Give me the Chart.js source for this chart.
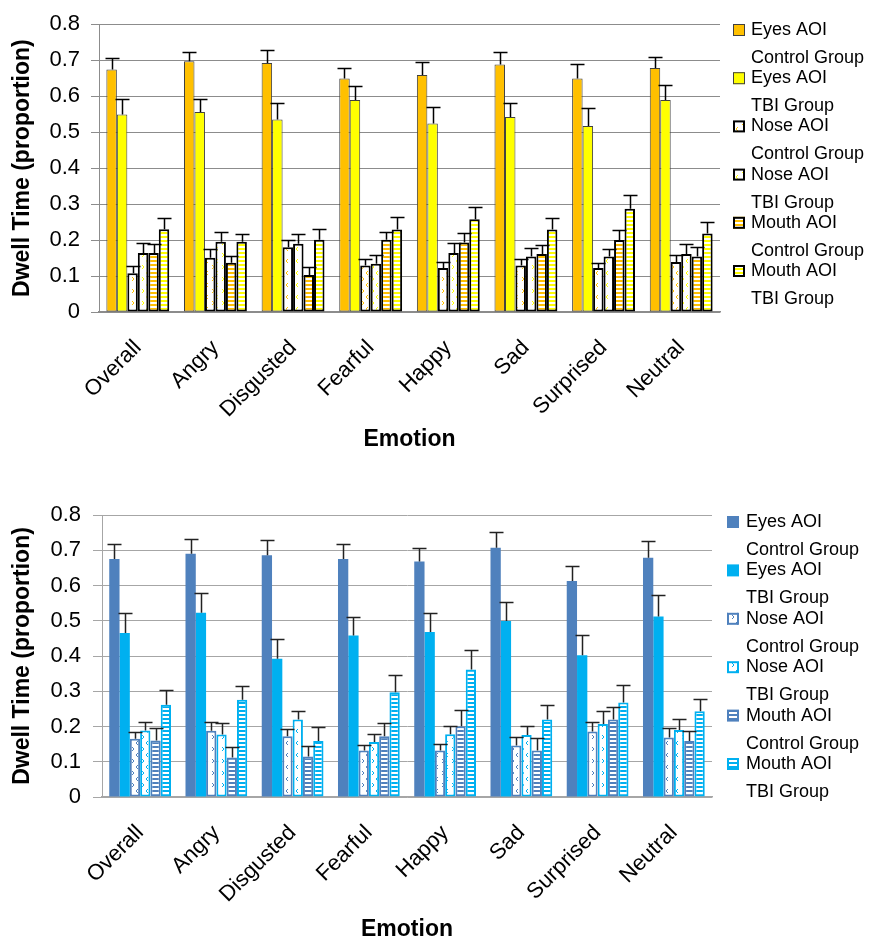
<!DOCTYPE html>
<html>
<head>
<meta charset="utf-8">
<script src="https://cdn.jsdelivr.net/npm/chart.js@4.4.1/dist/chart.umd.min.js"></script>
<style>
  body { margin: 0; background: #fff; }
  canvas { display: block; }
</style>
</head>
<body>
<canvas id="topChart" width="876" height="470"></canvas>
<canvas id="bottomChart" width="876" height="470"></canvas>
<script>
const emotions = ['Overall', 'Angry', 'Disgusted', 'Fearful', 'Happy', 'Sad', 'Surprised', 'Neutral'];
const aoiNames = ['Eyes AOI', 'Eyes AOI', 'Nose AOI', 'Nose AOI', 'Mouth AOI', 'Mouth AOI'];
const groupNames = ['Control Group', 'TBI Group', 'Control Group', 'TBI Group', 'Control Group', 'TBI Group'];

// top chart: means and (upper) error bars
const topEyesCtrl  = [0.674, 0.697, 0.692, 0.649, 0.659, 0.688, 0.649, 0.678];
const topEyesTbi   = [0.549, 0.556, 0.535, 0.589, 0.524, 0.542, 0.517, 0.589];
const topNoseCtrl  = [0.108, 0.151, 0.180, 0.129, 0.122, 0.129, 0.122, 0.139];
const topNoseTbi   = [0.164, 0.195, 0.190, 0.134, 0.164, 0.154, 0.154, 0.161];
const topMouthCtrl = [0.164, 0.137, 0.103, 0.201, 0.193, 0.161, 0.200, 0.154];
const topMouthTbi  = [0.230, 0.195, 0.201, 0.229, 0.258, 0.229, 0.287, 0.218];

const topEyesCtrlErr  = [0.033, 0.025, 0.036, 0.029, 0.037, 0.034, 0.040, 0.032];
const topEyesTbiErr   = [0.044, 0.037, 0.046, 0.039, 0.046, 0.040, 0.051, 0.043];
const topNoseCtrlErr  = [0.019, 0.023, 0.019, 0.019, 0.018, 0.017, 0.015, 0.020];
const topNoseTbiErr   = [0.027, 0.028, 0.026, 0.025, 0.027, 0.023, 0.020, 0.027];
const topMouthCtrlErr = [0.024, 0.018, 0.023, 0.022, 0.027, 0.024, 0.028, 0.027];
const topMouthTbiErr  = [0.032, 0.021, 0.030, 0.034, 0.033, 0.033, 0.038, 0.032];

// bottom chart
const botEyesCtrl  = [0.675, 0.690, 0.686, 0.675, 0.668, 0.707, 0.613, 0.679];
const botEyesTbi   = [0.465, 0.523, 0.392, 0.458, 0.468, 0.499, 0.402, 0.512];
const botNoseCtrl  = [0.165, 0.188, 0.172, 0.132, 0.132, 0.146, 0.186, 0.169];
const botNoseTbi   = [0.189, 0.177, 0.220, 0.156, 0.178, 0.176, 0.207, 0.190];
const botMouthCtrl = [0.160, 0.112, 0.115, 0.172, 0.201, 0.132, 0.220, 0.159];
const botMouthTbi  = [0.262, 0.276, 0.159, 0.297, 0.362, 0.220, 0.268, 0.243];

const botEyesCtrlErr  = [0.044, 0.042, 0.043, 0.044, 0.038, 0.044, 0.042, 0.046];
const botEyesTbiErr   = [0.056, 0.057, 0.057, 0.053, 0.053, 0.055, 0.058, 0.061];
const botNoseCtrlErr  = [0.019, 0.024, 0.021, 0.015, 0.019, 0.023, 0.027, 0.026];
const botNoseTbiErr   = [0.023, 0.032, 0.023, 0.023, 0.023, 0.025, 0.036, 0.030];
const botMouthCtrlErr = [0.035, 0.029, 0.029, 0.038, 0.045, 0.034, 0.036, 0.029];
const botMouthTbiErr  = [0.042, 0.038, 0.039, 0.050, 0.054, 0.040, 0.050, 0.035];

Chart.defaults.font.family = "'Liberation Sans', Arial, sans-serif";
Chart.defaults.color = '#000';

// fill patterns
const stripes = (ctx, color) => {
  const c = document.createElement('canvas');
  c.width = 4; c.height = 4;
  const g = c.getContext('2d');
  g.fillStyle = color; g.fillRect(0, 0, 4, 4);
  g.fillStyle = '#fff'; g.fillRect(0, 2, 4, 2);
  return ctx.createPattern(c, 'repeat');
};
const chevrons = (ctx, color) => {
  const c = document.createElement('canvas');
  c.width = 10; c.height = 12;
  const g = c.getContext('2d');
  g.fillStyle = '#fff'; g.fillRect(0, 0, 10, 12);
  g.strokeStyle = color; g.lineWidth = 1;
  g.beginPath();
  g.moveTo(2, 1); g.lineTo(4, 3); g.lineTo(2, 5);
  g.moveTo(8, 7); g.lineTo(6, 9); g.lineTo(8, 11);
  g.stroke();
  return ctx.createPattern(c, 'repeat');
};

const errorBars = {
  id: 'errorBars',
  afterDatasetsDraw(chart, args, opts) {
    const ctx = chart.ctx;
    const y = chart.scales.y;
    ctx.save();
    ctx.strokeStyle = opts.color;
    ctx.lineWidth = opts.width;
    chart.data.datasets.forEach((ds, di) => {
      chart.getDatasetMeta(di).data.forEach((bar, i) => {
        const top = Math.round(y.getPixelForValue(ds.data[i] + ds.errors[i])) + 0.5;
        const x = Math.round(bar.x) + 0.5;
        ctx.beginPath();
        ctx.moveTo(x, bar.y);
        ctx.lineTo(x, top);
        ctx.moveTo(x - opts.cap, top);
        ctx.lineTo(x + opts.cap, top);
        ctx.stroke();
      });
    });
    ctx.restore();
  }
};

const sideLegend = {
  id: 'sideLegend',
  afterDraw(chart, args, o) {
    const ctx = chart.ctx;
    ctx.save();
    ctx.font = o.font;
    ctx.textBaseline = 'middle';
    chart.data.datasets.forEach((ds, i) => {
      const y = o.top + i * o.step;
      ctx.fillStyle = ds.backgroundColor;
      ctx.fillRect(o.boxX, y - o.box / 2, o.box, o.box);
      if (ds.borderWidth) {
        ctx.lineWidth = ds.borderWidth;
        ctx.strokeStyle = ds.borderColor;
        const h = ds.borderWidth / 2;
        ctx.strokeRect(o.boxX + h, y - o.box / 2 + h, o.box - ds.borderWidth, o.box - ds.borderWidth);
      }
      ctx.fillStyle = '#000';
      ctx.fillText(aoiNames[i], o.textX, y);
      ctx.fillText(groupNames[i], o.textX, y + o.lineGap);
    });
    ctx.restore();
  }
};

const makeScales = (axisColor, yWidth, xHeight, tickLen, tickPad, titlePadBottom) => ({
  x: {
    grid: { display: false },
    border: { display: true, color: axisColor, width: 1.5 },
    ticks: { font: { size: 22 }, color: '#000', maxRotation: 45, minRotation: 45, padding: 15 },
    title: { display: true, text: 'Emotion', color: '#000', font: { size: 23, weight: 'bold' }, padding: { top: 0, bottom: titlePadBottom } },
    afterFit: s => { s.height = xHeight; }
  },
  y: {
    min: 0, max: 0.8,
    ticks: { stepSize: 0.1, font: { size: 22 }, color: '#000', padding: tickPad, callback: v => String(+v.toFixed(1)) },
    grid: { color: axisColor, tickLength: tickLen, lineWidth: 1 },
    border: { color: axisColor, width: 1 },
    title: { display: true, text: 'Dwell Time (proportion)', color: '#000', font: { size: 23, weight: 'bold' }, padding: { top: 9, bottom: 0 } },
    afterFit: s => { s.width = yWidth; }
  }
});

const bar = (label, data, errors, bg, border, bw) => ({
  label, data, errors,
  backgroundColor: bg, borderColor: border, borderWidth: bw,
  borderSkipped: false,
  categoryPercentage: 0.81, barPercentage: 1.0
});

// top chart
const topCtx = document.getElementById('topChart').getContext('2d');
new Chart(topCtx, {
  type: 'bar',
  data: {
    labels: emotions,
    datasets: [
      bar('Eyes AOI Control Group', topEyesCtrl, topEyesCtrlErr, '#FFC000', '#404040', 1),
      bar('Eyes AOI TBI Group', topEyesTbi, topEyesTbiErr, '#FFFF00', '#404040', 1),
      bar('Nose AOI Control Group', topNoseCtrl, topNoseCtrlErr, chevrons(topCtx, '#FFC000'), '#000', 2),
      bar('Nose AOI TBI Group', topNoseTbi, topNoseTbiErr, chevrons(topCtx, '#FFFF00'), '#000', 2),
      bar('Mouth AOI Control Group', topMouthCtrl, topMouthCtrlErr, stripes(topCtx, '#FFC000'), '#000', 2),
      bar('Mouth AOI TBI Group', topMouthTbi, topMouthTbiErr, stripes(topCtx, '#FFFF00'), '#000', 2)
    ]
  },
  options: {
    responsive: false,
    animation: false,
    devicePixelRatio: 1,
    layout: { padding: { top: 24, right: 156, left: 0, bottom: 0 } },
    plugins: {
      legend: { display: false },
      tooltip: { enabled: false },
      errorBars: { color: '#000', width: 1.5, cap: 7 },
      sideLegend: { font: "18px 'Liberation Sans', Arial, sans-serif", top: 30, step: 48.2, lineGap: 28, boxX: 733, box: 12, textX: 751 }
    },
    scales: makeScales('#8c8c8c', 99, 158, 8, 11, 17)
  },
  plugins: [errorBars, sideLegend]
});

// bottom chart
const botCtx = document.getElementById('bottomChart').getContext('2d');
new Chart(botCtx, {
  type: 'bar',
  data: {
    labels: emotions,
    datasets: [
      bar('Eyes AOI Control Group', botEyesCtrl, botEyesCtrlErr, '#4F81BD', '#4F81BD', 0),
      bar('Eyes AOI TBI Group', botEyesTbi, botEyesTbiErr, '#00B0F0', '#00B0F0', 0),
      bar('Nose AOI Control Group', botNoseCtrl, botNoseCtrlErr, chevrons(botCtx, '#4F81BD'), '#4F81BD', 2),
      bar('Nose AOI TBI Group', botNoseTbi, botNoseTbiErr, chevrons(botCtx, '#00B0F0'), '#00B0F0', 2),
      bar('Mouth AOI Control Group', botMouthCtrl, botMouthCtrlErr, stripes(botCtx, '#4F81BD'), '#4F81BD', 2),
      bar('Mouth AOI TBI Group', botMouthTbi, botMouthTbiErr, stripes(botCtx, '#00B0F0'), '#00B0F0', 2)
    ]
  },
  options: {
    responsive: false,
    animation: false,
    devicePixelRatio: 1,
    layout: { padding: { top: 45, right: 164, left: 0, bottom: 0 } },
    plugins: {
      legend: { display: false },
      tooltip: { enabled: false },
      errorBars: { color: '#222', width: 1.5, cap: 7 },
      sideLegend: { font: "18px 'Liberation Sans', Arial, sans-serif", top: 52, step: 48.4, lineGap: 28, boxX: 727, box: 12, textX: 746 }
    },
    scales: makeScales('#a6a6a6', 102, 143, 9, 12, -3)
  },
  plugins: [errorBars, sideLegend]
});
</script>
</body>
</html>
